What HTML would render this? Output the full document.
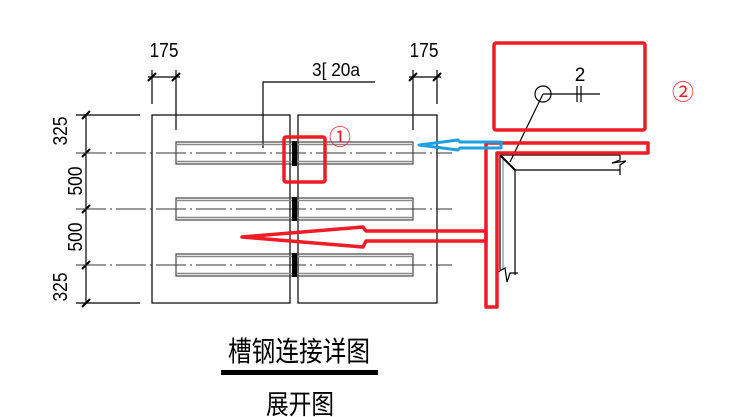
<!DOCTYPE html>
<html><head><meta charset="utf-8"><style>
html,body{margin:0;padding:0;background:#fff;}
svg{display:block;}
text{font-family:"Liberation Sans Narrow","Liberation Sans","Noto Sans CJK SC",sans-serif;}
</style></head><body>
<svg width="745" height="417" viewBox="0 0 745 417" xmlns="http://www.w3.org/2000/svg">
<g stroke="#000" stroke-width="1.2" fill="none">
  <rect x="152" y="115" width="138" height="188"/>
  <rect x="298" y="115" width="139" height="188"/>
  <line x1="86" y1="115" x2="86" y2="303"/>
  <line x1="76" y1="115" x2="140" y2="115"/>
  <line x1="76" y1="303" x2="140" y2="303"/>
  <line x1="148" y1="77" x2="180" y2="77"/>
  <line x1="152" y1="70" x2="152" y2="104"/>
  <line x1="176" y1="70" x2="176" y2="130"/>
  <line x1="409" y1="77" x2="441" y2="77"/>
  <line x1="413" y1="70" x2="413" y2="130"/>
  <line x1="437" y1="70" x2="437" y2="104"/>
  <polyline points="263,148 263,82 375,82"/>
</g>
<g stroke="#000" stroke-width="2">
  <line x1="148" y1="81" x2="156" y2="73"/><line x1="172" y1="81" x2="180" y2="73"/>
  <line x1="409" y1="81" x2="417" y2="73"/><line x1="433" y1="81" x2="441" y2="73"/>
  <line x1="82" y1="119" x2="90" y2="111"/><line x1="82" y1="157" x2="90" y2="149"/>
  <line x1="82" y1="213" x2="90" y2="205"/><line x1="82" y1="269" x2="90" y2="261"/>
  <line x1="82" y1="307" x2="90" y2="299"/>
</g>
<g fill="none">
  <g stroke="#444" stroke-width="1.2">
    <rect x="176" y="142" width="237" height="22"/>
    <rect x="176" y="198" width="237" height="22"/>
    <rect x="176" y="254" width="237" height="22"/>
  </g>
  <g stroke="#888" stroke-width="1.5">
    <line x1="176" y1="144.5" x2="413" y2="144.5"/><line x1="176" y1="161.5" x2="413" y2="161.5"/>
    <line x1="176" y1="200.5" x2="413" y2="200.5"/><line x1="176" y1="217.5" x2="413" y2="217.5"/>
    <line x1="176" y1="256.5" x2="413" y2="256.5"/><line x1="176" y1="273.5" x2="413" y2="273.5"/>
  </g>
  <g stroke="#333" stroke-width="1" stroke-dasharray="30,4,2,4">
    <line x1="76" y1="153" x2="452" y2="153"/>
    <line x1="76" y1="209" x2="452" y2="209"/>
    <line x1="76" y1="265" x2="452" y2="265"/>
  </g>
</g>
<g fill="#000">
  <rect x="292" y="141" width="5" height="25"/>
  <rect x="292" y="197" width="5" height="24"/>
  <rect x="292" y="253" width="5" height="24"/>
</g>
<g font-size="20" fill="#000">
  <text x="164" y="57" text-anchor="middle" textLength="29" lengthAdjust="spacingAndGlyphs">175</text>
  <text x="424" y="57" text-anchor="middle" textLength="29" lengthAdjust="spacingAndGlyphs">175</text>
  <text x="312" y="76" font-size="18" textLength="48" lengthAdjust="spacingAndGlyphs">3[ 20a</text>
  <text transform="translate(67,131) rotate(-90)" text-anchor="middle" textLength="29" lengthAdjust="spacingAndGlyphs">325</text>
  <text transform="translate(82,181) rotate(-90)" text-anchor="middle" textLength="29" lengthAdjust="spacingAndGlyphs">500</text>
  <text transform="translate(82,237) rotate(-90)" text-anchor="middle" textLength="29" lengthAdjust="spacingAndGlyphs">500</text>
  <text transform="translate(67,287) rotate(-90)" text-anchor="middle" textLength="29" lengthAdjust="spacingAndGlyphs">325</text>
  <text x="580" y="81" text-anchor="middle" font-size="19">2</text>
</g>
<g stroke="#000" stroke-width="1.2" fill="none">
  <circle cx="543" cy="94" r="8"/>
  <line x1="543" y1="94" x2="600" y2="94"/>
  <line x1="577" y1="86" x2="577" y2="102"/><line x1="581" y1="86" x2="581" y2="102"/>
  <line x1="543" y1="94" x2="510" y2="162"/>
  <line x1="500" y1="155" x2="620" y2="155"/>
  <line x1="515" y1="170" x2="620" y2="170"/>
  <polyline points="620,155 620,160 612,163 626,161 620,165 620,175"/>
  <line x1="500" y1="155" x2="500" y2="270"/>
  <line x1="503" y1="157" x2="503" y2="270" stroke="#888"/>
  <line x1="515" y1="170" x2="515" y2="275"/>
  <polyline points="498,272 505,268 507,282 510,273 518,273"/>
</g>
<line x1="500" y1="155" x2="515" y2="170" stroke="#000" stroke-width="2"/>
<g stroke="#ee1c25" stroke-width="3.5" fill="none" stroke-linejoin="round">
  <rect x="284" y="137" width="41" height="45" rx="2"/>
  <rect x="494" y="43" width="151" height="87" rx="2"/>
  <polygon points="486,143 648,143 648,153 497,153 497,307 486,307"/>
  <polygon points="242,237 363,227 366,231 486,231 486,241 366,241 363,247"/>
</g>
<polygon points="419,145 458,140 460,142 501,142 501,148 460,148 458,150" fill="none" stroke="#1ba1e2" stroke-width="3" stroke-linejoin="round"/>
<g fill="#ee1c25" font-size="22">
  <text x="340" y="145" text-anchor="middle" font-family="DejaVu Sans,sans-serif">①</text>
  <text x="683" y="100" text-anchor="middle" font-family="DejaVu Sans,sans-serif">②</text>
</g>
<text x="228" y="361" font-size="28" fill="#000" textLength="142" lengthAdjust="spacingAndGlyphs" font-family="Liberation Sans,Noto Sans CJK SC,sans-serif">槽钢连接详图</text>
<rect x="221" y="370" width="157" height="5" fill="#000"/>
<text x="266" y="414" font-size="27" fill="#000" textLength="68" lengthAdjust="spacingAndGlyphs" font-family="Liberation Sans,Noto Sans CJK SC,sans-serif">展开图</text>
</svg>
</body></html>
